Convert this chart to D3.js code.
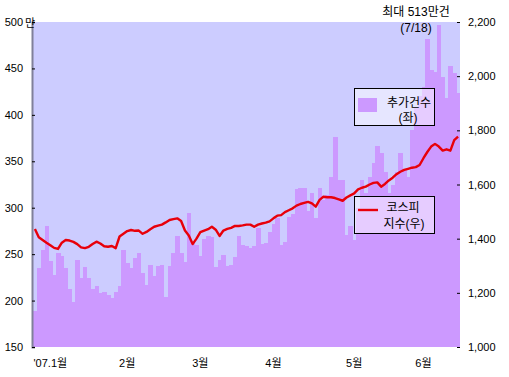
<!DOCTYPE html>
<html>
<head>
<meta charset="utf-8">
<script src="https://cdn.jsdelivr.net/npm/d3@7"></script>
<style>
    body { margin: 0; background: #fff; }
    text { font-family: "Liberation Sans", "Noto Sans CJK KR", sans-serif; fill: #000; }
</style>
</head>
<body>
<div id="chart"></div>
<script>
// daily trade counts (10k) - left axis
const tradeCounts = [
    189, 235, 254, 280, 243, 228, 251, 248, 235, 213,
    199, 244, 224, 236, 224, 212, 216, 208, 209, 206,
    203, 209, 216, 254, 240, 235, 246, 251, 230, 217,
    238, 226, 237, 238, 204, 237, 251, 270, 251, 242,
    294, 262, 260, 248, 266, 270, 268, 236, 244, 249,
    237, 238, 247, 270, 260, 259, 257, 259, 278, 261,
    262, 274, 282, 289, 260, 263, 290, 293, 320, 321,
    321, 296, 316, 289, 321, 308, 314, 333, 376, 330,
    330, 271, 280, 265, 300, 330, 316, 333, 348, 366,
    359, 339, 316, 325, 339, 359, 342, 333, 384, 407,
    420, 430, 482, 448, 446, 497, 441, 418, 453, 445, 424
];

// KOSPI index - right axis
const kospi = [
    1436, 1405, 1395, 1385, 1376, 1366, 1362, 1385, 1395, 1393,
    1388, 1380, 1368, 1365, 1370, 1380, 1389, 1382, 1372, 1370,
    1373, 1365, 1408, 1418, 1428, 1432, 1429, 1430, 1418, 1425,
    1435, 1444, 1448, 1452, 1460, 1469, 1472, 1475, 1465, 1430,
    1412, 1380, 1400, 1424, 1430, 1435, 1444, 1433, 1410, 1430,
    1436, 1440, 1447, 1447, 1449, 1452, 1452, 1444, 1452, 1456,
    1459, 1464, 1475, 1485, 1487, 1498, 1505, 1512, 1522, 1528,
    1532, 1536, 1530, 1518, 1543, 1555, 1553, 1553, 1550, 1545,
    1540, 1552, 1560, 1567, 1582, 1588, 1592, 1600, 1606, 1608,
    1592, 1602, 1615, 1625, 1638, 1647, 1654, 1658, 1662, 1664,
    1672, 1697, 1720, 1740, 1750, 1740, 1725, 1730, 1725, 1764, 1777
];

const monthLabels = ["'07.1월", "2월", "3월", "4월", "5월", "6월"];
const monthIndex = [4, 24, 43, 62, 83, 101];

const leftTicks = [150, 200, 250, 300, 350, 400, 450, 500];
const rightTicks = [1000, 1200, 1400, 1600, 1800, 2000, 2200];

const width = 509, height = 377;
const margin = {top: 22, right: 49, bottom: 30, left: 33};
const plotRight = width - margin.right;
const plotBottom = height - margin.bottom;

const svg = d3.select("#chart").append("svg")
    .attr("width", width)
    .attr("height", height);

const x = d3.scaleBand()
    .domain(d3.range(tradeCounts.length))
    .range([margin.left, plotRight])
    .paddingInner(0);

const yLeft = d3.scaleLinear()
    .domain([150, 500])
    .range([plotBottom, margin.top]);

const yRight = d3.scaleLinear()
    .domain([1000, 2200])
    .range([plotBottom, margin.top]);

// plot background
svg.append("rect")
    .attr("x", margin.left)
    .attr("y", margin.top)
    .attr("width", plotRight - margin.left)
    .attr("height", plotBottom - margin.top)
    .attr("fill", "#ccccff");

// bars, clipped to the plot
svg.append("clipPath")
    .attr("id", "plot-clip")
    .append("rect")
    .attr("x", margin.left)
    .attr("y", margin.top)
    .attr("width", plotRight - margin.left)
    .attr("height", plotBottom - margin.top);

svg.append("g")
    .attr("clip-path", "url(#plot-clip)")
    .selectAll("rect")
    .data(tradeCounts)
    .enter()
    .append("rect")
    .attr("x", (d, i) => x(i))
    .attr("y", d => yLeft(d))
    .attr("width", x.bandwidth() + 0.6)
    .attr("height", d => plotBottom - yLeft(d))
    .attr("fill", "#cc99ff")
    .attr("shape-rendering", "crispEdges");

// kospi line
svg.append("path")
    .datum(kospi)
    .attr("fill", "none")
    .attr("stroke", "#e8000a")
    .attr("stroke-width", 2.4)
    .attr("stroke-linejoin", "round")
    .attr("d", d3.line()
        .x((d, i) => x(i) + x.bandwidth() / 2)
        .y(d => yRight(d))
    );

// left axis
const leftAxis = svg.append("g")
    .attr("transform", `translate(${margin.left - 1}, 0)`)
    .call(d3.axisLeft(yLeft).tickValues(leftTicks).tickSize(-3).tickPadding(9));
leftAxis.select(".domain")
    .attr("stroke", "#80809a")
    .attr("stroke-width", 2);
leftAxis.selectAll("text")
    .attr("font-size", 11);

svg.append("text")
    .attr("x", 25)
    .attr("y", 27)
    .attr("font-size", 11)
    .text("만");

// right axis
const rightAxis = svg.append("g")
    .attr("transform", `translate(${plotRight}, 0)`)
    .call(d3.axisRight(yRight).tickValues(rightTicks)
        .tickSize(-3).tickPadding(8)
        .tickFormat(d3.format(",")));
rightAxis.select(".domain").remove();
rightAxis.selectAll("text")
    .attr("font-size", 11);

// month labels
svg.append("g")
    .selectAll("text")
    .data(monthLabels)
    .enter()
    .append("text")
    .attr("x", (d, i) => x(monthIndex[i]) + x.bandwidth() / 2)
    .attr("y", 367)
    .attr("text-anchor", "middle")
    .attr("font-size", 11)
    .text(d => d);

// max annotation
svg.append("text")
    .attr("x", 416)
    .attr("y", 16)
    .attr("text-anchor", "middle")
    .attr("font-size", 12)
    .text("최대 513만건");

svg.append("text")
    .attr("x", 416)
    .attr("y", 32)
    .attr("text-anchor", "middle")
    .attr("font-size", 12)
    .text("(7/18)");

// legends
function legendBox(y0) {
    svg.append("rect")
        .attr("x", 354.5)
        .attr("y", y0 + 0.5)
        .attr("width", 80)
        .attr("height", 37)
        .attr("fill", "#ffffff")
        .attr("fill-opacity", 0.5)
        .attr("stroke", "#000")
        .attr("stroke-width", 1);
}

legendBox(88);
svg.append("rect")
    .attr("x", 358)
    .attr("y", 98)
    .attr("width", 19)
    .attr("height", 14)
    .attr("fill", "#cc99ff");
svg.append("text")
    .attr("x", 409)
    .attr("y", 107)
    .attr("text-anchor", "middle")
    .attr("font-size", 12)
    .text("추가건수");
svg.append("text")
    .attr("x", 408)
    .attr("y", 122)
    .attr("text-anchor", "middle")
    .attr("font-size", 12)
    .text("(좌)");

legendBox(196);
svg.append("line")
    .attr("x1", 358)
    .attr("x2", 378)
    .attr("y1", 210)
    .attr("y2", 210)
    .attr("stroke", "#e8000a")
    .attr("stroke-width", 2.4);
svg.append("text")
    .attr("x", 403)
    .attr("y", 212)
    .attr("text-anchor", "middle")
    .attr("font-size", 12)
    .text("코스피");
svg.append("text")
    .attr("x", 404)
    .attr("y", 228)
    .attr("text-anchor", "middle")
    .attr("font-size", 12)
    .text("지수(우)");
</script>
</body>
</html>
